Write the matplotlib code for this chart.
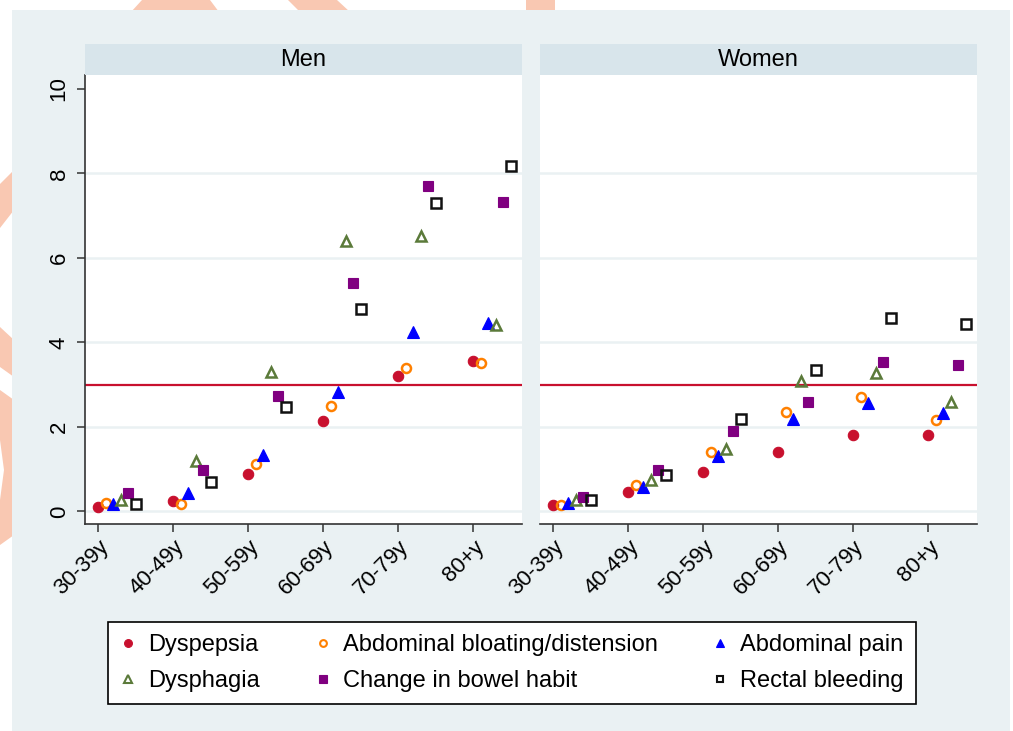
import matplotlib
matplotlib.use("Agg")
import matplotlib.pyplot as plt
import matplotlib.transforms as mtransforms
from matplotlib.patches import Rectangle, Polygon
from matplotlib.lines import Line2D
import numpy as np

plt.rcParams["font.family"] = ["Liberation Sans", "DejaVu Sans"]

# --- data ---
age_groups = ["30-39y", "40-49y", "50-59y", "60-69y", "70-79y", "80+y"]
panels = ["Men", "Women"]
symptoms = [
    "Dyspepsia",
    "Abdominal bloating/distension",
    "Abdominal pain",
    "Dysphagia",
    "Change in bowel habit",
    "Rectal bleeding",
]

men_dyspepsia = [0.10, 0.25, 0.88, 2.15, 3.20, 3.56]
men_bloating = [0.19, 0.18, 1.12, 2.49, 3.40, 3.52]
men_pain = [0.18, 0.44, 1.33, 2.82, 4.25, 4.47]
men_dysphagia = [0.28, 1.20, 3.31, 6.41, 6.53, 4.40]
men_bowel = [0.44, 0.97, 2.73, 5.40, 7.70, 7.32]
men_rectal = [0.17, 0.69, 2.46, 4.80, 7.29, 8.18]

women_dyspepsia = [0.15, 0.46, 0.93, 1.40, 1.81, 1.81]
women_bloating = [0.15, 0.62, 1.41, 2.34, 2.71, 2.17]
women_pain = [0.20, 0.58, 1.31, 2.19, 2.57, 2.33]
women_dysphagia = [0.27, 0.73, 1.47, 3.09, 3.27, 2.60]
women_bowel = [0.34, 0.97, 1.90, 2.58, 3.53, 3.47]
women_rectal = [0.28, 0.85, 2.19, 3.35, 4.57, 4.44]

threshold = 3
y_ticks = [0, 2, 4, 6, 8, 10]

series_by_panel = {
    "Men": [men_dyspepsia, men_bloating, men_pain, men_dysphagia, men_bowel, men_rectal],
    "Women": [women_dyspepsia, women_bloating, women_pain, women_dysphagia, women_bowel, women_rectal],
}

# marker styles: (marker, face, edge)
styles = [
    ("o", "#C8102E", "#C8102E"),
    ("o", "none", "#FF8000"),
    ("^", "#0000FF", "#0000FF"),
    ("^", "none", "#5B7A3A"),
    ("s", "#800080", "#800080"),
    ("s", "none", "#111111"),
]
sizes = [7.5, 6.5, 8.0, 7.0, 7.0, 6.5]

W, H = 1013, 731
BG = "#EAF1F3"
STRIP = "#D8E5EB"
WM = "#F9C8B2"


def fx(px):
    return px / W


def fy(py):
    return 1 - py / H


fig = plt.figure(figsize=(W / 100, H / 100), dpi=100)
fig.patch.set_facecolor("white")

# faint watermark peeking out in the white margins
wm_shapes = [
    [(142, 0), (210, 0), (219, 12), (131, 12)],
    [(288, 0), (337, 0), (350, 12), (300, 12)],
    [(526, 0), (555, 0), (555, 12), (526, 12)],
    [(14, 170), (14, 210), (0, 228), (0, 184)],
    [(0, 327), (14, 340), (14, 377), (0, 367)],
    [(0, 390), (14, 400), (14, 535), (0, 545), (0, 500), (4, 470), (0, 440)],
]
for shp in wm_shapes:
    fig.patches.append(Polygon([(fx(x), fy(y)) for x, y in shp], closed=True,
                               transform=fig.transFigure, facecolor=WM,
                               edgecolor="none", zorder=-3))

fig.patches.append(Rectangle((fx(12), 0), fx(1010) - fx(12), fy(10),
                             transform=fig.transFigure, facecolor=BG,
                             edgecolor="none", zorder=-2))

panel_x = {"Men": (85, 522), "Women": (540, 977)}
ax_top, ax_bot, strip_top = 75, 524, 44
offsets = np.arange(len(symptoms)) * 0.1
xpos = np.arange(len(age_groups))
shift = mtransforms.ScaledTranslation(5 / 72, 0, fig.dpi_scale_trans)

for name in panels:
    x0, x1 = panel_x[name]
    ax = fig.add_axes([fx(x0), fy(ax_bot), fx(x1) - fx(x0), fy(ax_top) - fy(ax_bot)])
    ax.set_facecolor("white")
    for yv in y_ticks[:-1]:
        ax.axhline(yv, color=BG, lw=1.8, zorder=1)
    ax.axhline(threshold, color="#C8102E", lw=1.6, zorder=2)
    for k, vals in enumerate(series_by_panel[name]):
        m, fc, ec = styles[k]
        ax.plot(xpos + offsets[k], vals, linestyle="none", marker=m,
                markersize=sizes[k], markerfacecolor=fc, markeredgecolor=ec,
                markeredgewidth=1.8 if fc == "none" else 0.8, zorder=3)
    ax.set_xlim(-0.18, 5.65)
    ax.set_ylim(-0.3, 10.33)
    ax.set_xticks(xpos)
    ax.set_xticklabels(age_groups, rotation=45, ha="right", va="top",
                       rotation_mode="anchor", fontsize=16)
    for lbl in ax.get_xticklabels():
        lbl.set_transform(lbl.get_transform() + shift)
    ax.tick_params(axis="x", length=6, width=1.1, color="#333333", pad=3)
    for s in ("top", "right"):
        ax.spines[s].set_visible(False)
    ax.spines["bottom"].set_color("#333333")
    ax.spines["bottom"].set_linewidth(1.2)
    if name == "Men":
        ax.set_yticks(y_ticks)
        ax.set_yticklabels([str(t) for t in y_ticks], rotation=90, va="center",
                           fontsize=16)
        ax.tick_params(axis="y", length=6, width=1.1, color="#333333", pad=5)
        ax.spines["left"].set_color("#333333")
        ax.spines["left"].set_linewidth(1.2)
    else:
        ax.set_yticks([])
        ax.spines["left"].set_visible(False)

    sax = fig.add_axes([fx(x0), fy(ax_top), fx(x1) - fx(x0), fy(strip_top) - fy(ax_top)])
    sax.set_facecolor(STRIP)
    sax.set_xticks([])
    sax.set_yticks([])
    for s in sax.spines.values():
        s.set_visible(False)
    sax.text(0.5, 0.5, name, ha="center", va="center", fontsize=17,
             transform=sax.transAxes)

# legend, row-major order like the original
handles = []
for k, lab in enumerate(symptoms):
    m, fc, ec = styles[k]
    handles.append(Line2D([], [], linestyle="none", marker=m, markersize=sizes[k] * 0.75,
                          markerfacecolor=fc, markeredgecolor=ec,
                          markeredgewidth=1.5 if fc == "none" else 0.8, label=lab))
order = [0, 3, 1, 4, 2, 5]
leg = fig.legend([handles[i] for i in order], [symptoms[i] for i in order],
                 ncol=3, loc="center", bbox_to_anchor=(fx(512), fy(663)),
                 fontsize=17, frameon=True, fancybox=False, edgecolor="black",
                 framealpha=1, handlelength=0.7, handletextpad=0.5,
                 columnspacing=2.3, borderpad=0.5, labelspacing=0.6)
leg.get_frame().set_linewidth(1.2)
leg.get_frame().set_facecolor("white")

fig.savefig("out.png", dpi=100, facecolor="white")
